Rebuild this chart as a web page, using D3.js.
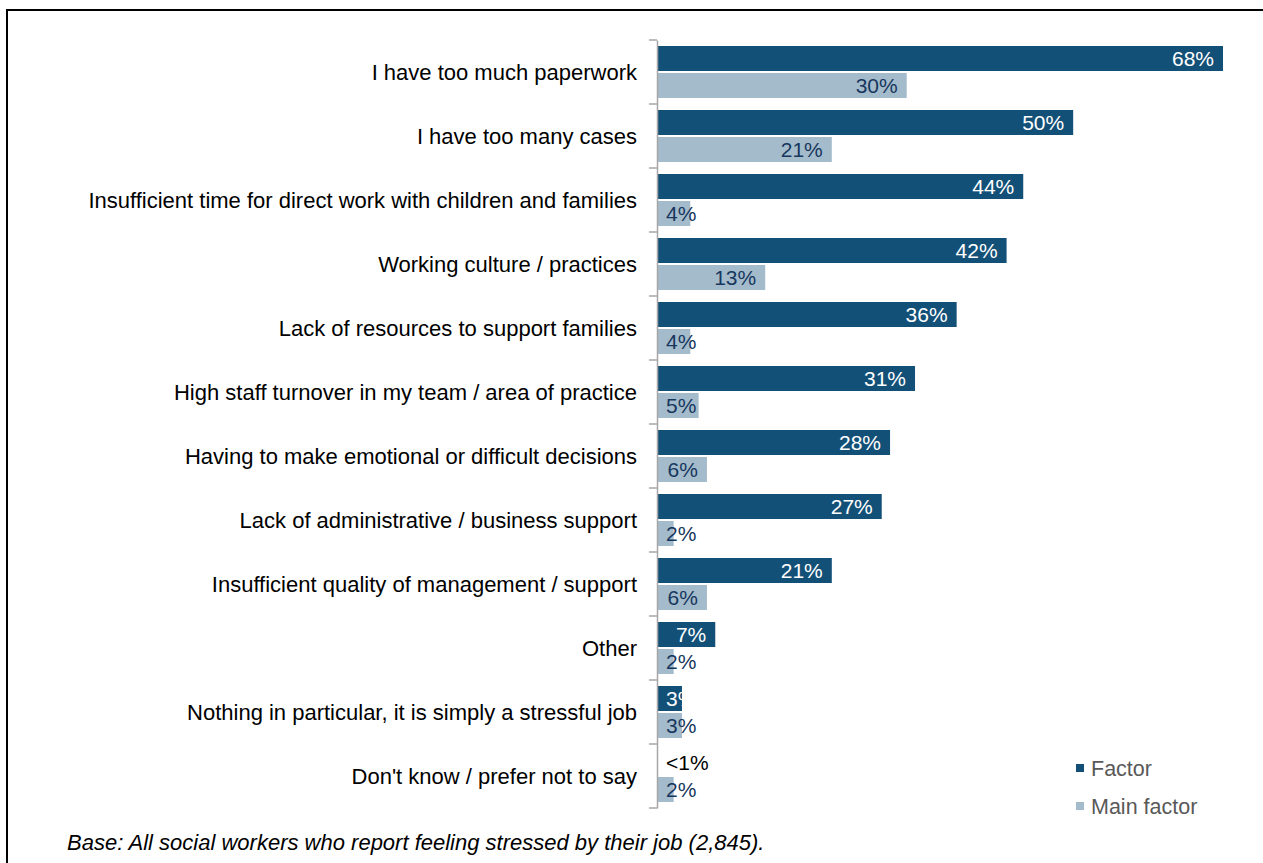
<!DOCTYPE html>
<html>
<head>
<meta charset="utf-8">
<script src="https://cdn.jsdelivr.net/npm/d3@7"></script>
<style>
  html, body { margin: 0; padding: 0; background: #fff; }
  svg { display: block; font-family: "Liberation Sans", Arial, sans-serif; }
</style>
</head>
<body>
<svg id="chart" width="1263" height="863"></svg>
<script>
const categories = [
  "I have too much paperwork",
  "I have too many cases",
  "Insufficient time for direct work with children and families",
  "Working culture / practices",
  "Lack of resources to support families",
  "High staff turnover in my team / area of practice",
  "Having to make emotional or difficult decisions",
  "Lack of administrative / business support",
  "Insufficient quality of management / support",
  "Other",
  "Nothing in particular, it is simply a stressful job",
  "Don't know / prefer not to say"
];
const factorValues = [68, 50, 44, 42, 36, 31, 28, 27, 21, 7, 3, 0.1];
const factorLabels = ["68%", "50%", "44%", "42%", "36%", "31%", "28%", "27%", "21%", "7%", "3%", "<1%"];
const mainValues = [30, 21, 4, 13, 4, 5, 6, 2, 6, 2, 3, 2];
const mainLabels = ["30%", "21%", "4%", "13%", "4%", "5%", "6%", "2%", "6%", "2%", "3%", "2%"];
const seriesNames = ["Factor", "Main factor"];
const seriesColors = ["#135077", "#a4bbcb"];

const svg = d3.select("#chart");

// frame
svg.append("rect")
  .attr("x", 7).attr("y", 10).attr("width", 1400).attr("height", 1000)
  .attr("fill", "none").attr("stroke", "#000").attr("stroke-width", 2);

const x0 = 657;
const x = d3.scaleLinear().domain([0, 68]).range([x0, 1223]);
const y = d3.scaleBand().domain(categories).range([40, 808]).padding(0);
const inner = d3.scaleBand().domain(seriesNames).range([6, 58]).paddingInner(2 / 27).paddingOuter(0);

const rows = categories.map((c, i) => ({
  cat: c, i,
  series: [
    { name: seriesNames[0], v: factorValues[i], label: factorLabels[i] },
    { name: seriesNames[1], v: mainValues[i], label: mainLabels[i] }
  ]
}));

const defs = svg.append("defs");
const g = svg.append("g");

rows.forEach(r => {
  r.series.forEach((s, si) => {
    const by = y(r.cat) + inner(s.name);
    const bh = inner.bandwidth();
    const bw = x(s.v) - x0;
    g.append("rect")
      .attr("x", x0).attr("y", by).attr("width", bw).attr("height", bh)
      .attr("fill", seriesColors[si]);

    const clipId = "clip" + r.i + "_" + si;
    const t = g.append("text")
      .attr("y", by + bh / 2)
      .attr("dy", "0.36em")
      .attr("font-size", 21)
      .text(s.label);
    const tw = t.node().getComputedTextLength();
    const tx = Math.max(x(s.v) - 9 - tw, x0 + 9);
    t.attr("x", tx);
    if (si === 0) {
      if (s.v < 1) {
        t.attr("fill", "#000");
      } else {
        defs.append("clipPath").attr("id", clipId)
          .append("rect").attr("x", x0).attr("y", by).attr("width", bw).attr("height", bh);
        t.attr("fill", "#fff").attr("clip-path", `url(#${clipId})`);
      }
    } else {
      t.attr("fill", "#17375e");
    }
  });
});

// axis
const axis = d3.axisLeft(y).tickSize(0).tickFormat("");
const ax = svg.append("g").attr("transform", `translate(${x0},0)`).call(axis);
ax.select(".domain").attr("stroke", "#a6a6a6").attr("stroke-width", 1.5);
// boundary ticks
const bounds = categories.map(c => y(c)).concat([y.range()[1]]);
svg.append("g").selectAll("line").data(bounds).join("line")
  .attr("x1", x0 - 8).attr("x2", x0)
  .attr("y1", d => d).attr("y2", d => d)
  .attr("stroke", "#a6a6a6").attr("stroke-width", 1.5);

// category labels
svg.append("g").selectAll("text").data(categories).join("text")
  .attr("x", 637)
  .attr("y", d => y(d) + y.bandwidth() / 2)
  .attr("dy", "0.36em")
  .attr("text-anchor", "end")
  .attr("font-size", 22)
  .attr("fill", "#000")
  .text(d => d);

// legend
const leg = svg.append("g");
seriesNames.forEach((n, i) => {
  const ly = 768 + i * 38;
  leg.append("rect").attr("x", 1076).attr("y", ly - 4).attr("width", 8).attr("height", 8)
    .attr("fill", seriesColors[i]);
  leg.append("text").attr("x", 1091).attr("y", ly).attr("dy", "0.36em")
    .attr("font-size", 21.5).attr("fill", "#595959").text(n);
});

// footnote
svg.append("text")
  .attr("x", 67).attr("y", 842).attr("dy", "0.36em")
  .attr("font-size", 22).attr("font-style", "italic").attr("fill", "#000")
  .text("Base: All social workers who report feeling stressed by their job (2,845).");
</script>
</body>
</html>
